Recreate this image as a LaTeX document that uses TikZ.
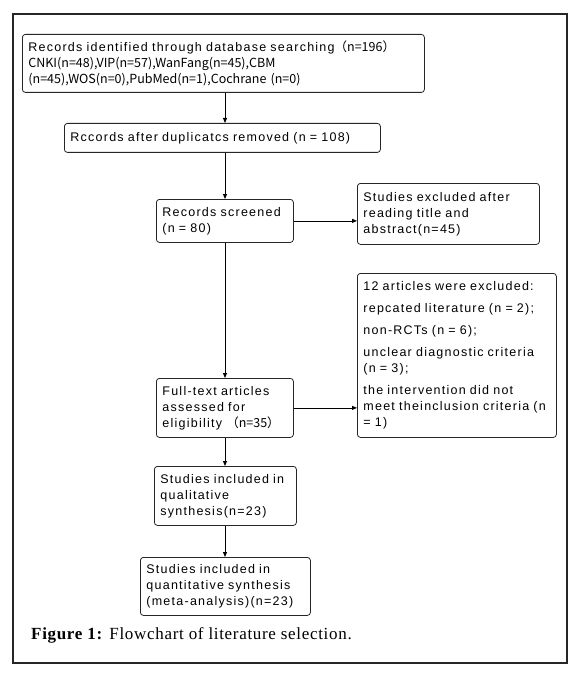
\documentclass[tikz,border=0pt]{standalone}
\usepackage{fontspec}
\setmainfont{Liberation Serif}
\newfontfamily\capfont[LetterSpace=4]{Liberation Serif}
\newfontfamily\boxfont[LetterSpace=10]{Liberation Sans}
\newfontfamily\cjk{Noto Sans CJK SC}
\usetikzlibrary{arrows.meta}
\begin{document}
\begin{tikzpicture}[x=1pt,y=-1pt,
  fbox/.style={draw=black!85, line width=0.8pt, rounded corners=3pt, anchor=north west,
    inner xsep=6pt, inner ysep=4pt, align=left, font=\boxfont\fontsize{12.5}{16}\selectfont},
  arr/.style={draw=black, line width=0.8pt, -{Triangle[length=5pt,width=4pt]}}]
\useasboundingbox (0,0) rectangle (580,679);
\draw[line width=1.1pt, black!85] (13,14) rectangle (567,663);
\coordinate (spine) at (225,0);
\node[fbox, minimum width=402pt, minimum height=58pt, text width=390pt] (b1) at (22,34)
  {Records identified through database searching\cjk{（}n=196\cjk{）}\\CNKI(n=48),VIP(n=57),WanFang(n=45),CBM\\(n=45),WOS(n=0),PubMed(n=1),Cochrane (n=0)};
\node[fbox, minimum width=316pt, minimum height=29pt, text width=304pt] (b2) at (64,123)
  {Rccords after duplicatcs removed (n = 108)};
\node[fbox, minimum width=137pt, minimum height=43pt, text width=125pt] (b3) at (156,199)
  {Records screened\\(n = 80)};
\node[fbox, minimum width=182pt, minimum height=61pt, text width=170pt] (b4) at (357,183)
  {Studies excluded after\\reading title and\\abstract(n=45)};
\node[fbox, minimum width=137pt, minimum height=59pt, text width=125pt] (b5) at (156,378)
  {Full-text articles\\assessed for\\eligibility \cjk{（}n=35\cjk{）}};
\node[fbox, minimum width=199pt, minimum height=164pt, text width=187pt] (b6) at (357,273)
  {12 articles were excluded:\\[6pt]repcated literature (n = 2);\\[6pt]non-RCTs (n = 6);\\[6pt]unclear diagnostic criteria\\(n = 3);\\[6pt]the intervention did not\\\mbox{meet theinclusion criteria (n}\\= 1)};
\node[fbox, minimum width=142pt, minimum height=59pt, text width=130pt] (b7) at (154,466)
  {Studies included in\\qualitative\\synthesis(n=23)};
\node[fbox, minimum width=170pt, minimum height=58pt, text width=158pt] (b8) at (140,557)
  {Studies included in\\quantitative synthesis\\(meta-analysis)(n=23)};
\node[anchor=base west, inner sep=0pt, font=\capfont\fontsize{17}{20}\selectfont] (cap) at (31,639)
  {\textbf{Figure 1:} Flowchart of literature selection.};
\draw[arr] (b1.south -| spine) -- (b2.north -| spine);
\draw[arr] (b2.south -| spine) -- (b3.north -| spine);
\draw[arr] (b3.south -| spine) -- (b5.north -| spine);
\draw[arr] (b5.south -| spine) -- (b7.north -| spine);
\draw[arr] (b7.south -| spine) -- (b8.north -| spine);
\draw[arr] (b3.east) -- (b3.east -| b4.west);
\draw[arr] (b5.east) -- (b5.east -| b6.west);
\end{tikzpicture}
\end{document}
